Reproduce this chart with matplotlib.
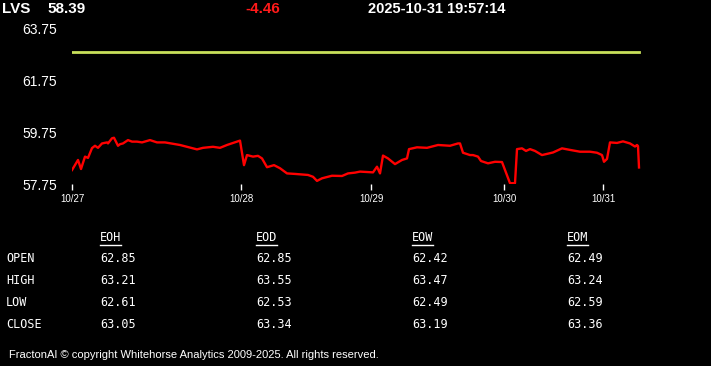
import matplotlib.pyplot as plt
from matplotlib.lines import Line2D

# header
symbol = "LVS"
last_price = "58.39"
change = "-4.46"
timestamp = "2025-10-31 19:57:14"
prev_close = 62.85

# intraday series: bar index, price
bar_idx = [0, 6, 9, 13, 16, 20, 23, 26, 30, 35, 36, 40, 42, 46, 48, 51, 56, 60, 65, 70,
           78, 85, 93, 108, 125, 131, 141, 148, 155, 168, 172, 175, 181, 186, 190, 195,
           202, 208, 215, 223, 236, 241, 245, 250, 260, 270, 276, 283, 288, 301, 305,
           308, 311, 316, 323, 330, 335, 337, 345, 355, 366, 378, 386, 388, 391, 398,
           401, 406, 409, 416, 423, 430, 434, 438, 443, 445, 450, 454, 458, 463, 470,
           481, 490, 498, 508, 518, 525, 530, 532, 535, 538, 545, 551, 558, 563, 565,
           566, 567]
price = [58.29, 58.68, 58.33, 58.81, 58.76, 59.14, 59.23, 59.15, 59.32, 59.36, 59.32,
         59.52, 59.54, 59.23, 59.29, 59.32, 59.45, 59.39, 59.39, 59.36, 59.45, 59.36,
         59.36, 59.26, 59.09, 59.15, 59.19, 59.15, 59.26, 59.43, 58.48, 58.87, 58.81,
         58.84, 58.74, 58.40, 58.48, 58.36, 58.16, 58.14, 58.10, 58.03, 57.87, 57.97,
         58.07, 58.06, 58.16, 58.19, 58.23, 58.20, 58.42, 58.16, 58.85, 58.74, 58.52,
         58.68, 58.74, 59.10, 59.17, 59.15, 59.26, 59.23, 59.32, 59.32, 58.96, 58.87,
         58.87, 58.81, 58.64, 58.55, 58.61, 58.60, 58.19, 57.78, 57.78, 59.10, 59.13,
         59.03, 59.10, 59.03, 58.87, 58.97, 59.13, 59.07, 59.00, 59.00, 58.96, 58.87,
         58.61, 58.72, 59.36, 59.34, 59.40, 59.32, 59.20, 59.26, 59.22, 58.39]

day_ticks = [0, 169, 299, 432, 531]
day_labels = ["10/27", "10/28", "10/29", "10/30", "10/31"]
y_ticks = [57.75, 59.75, 61.75, 63.75]

# summary table
col_names = ["EOH", "EOD", "EOW", "EOM"]
row_names = ["OPEN", "HIGH", "LOW", "CLOSE"]
eoh = ["62.85", "63.21", "62.61", "63.05"]
eod = ["62.85", "63.55", "62.53", "63.34"]
eow = ["62.42", "63.47", "62.49", "63.19"]
eom = ["62.49", "63.24", "62.59", "63.36"]
table_cols = [eoh, eod, eow, eom]

footer = "FractonAI \u00a9 copyright Whitehorse Analytics 2009-2025. All rights reserved."

W, H = 711, 366
sans = ["Liberation Sans", "DejaVu Sans"]
mono = ["DejaVu Sans Mono"]

fig = plt.figure(figsize=(W / 100, H / 100), dpi=100, facecolor="black")
ax = fig.add_axes([72 / W, 1 - 184 / H, (660 - 72) / W, (184 - 29) / H])
ax.set_facecolor("black")

ax.plot([bar_idx[0], bar_idx[-1]], [prev_close, prev_close], color="#c8e05a", lw=2)
ax.plot(bar_idx, price, color="#ff0000", lw=1.7)

ax.set_xlim(0, 588)
ax.set_ylim(57.75, 63.75)
for s in ax.spines.values():
    s.set_visible(False)
ax.set_yticks(y_ticks)
ax.set_yticklabels([f"{v:.2f}" for v in y_ticks], color="white", fontsize=10, family=sans)
ax.tick_params(axis="y", length=0, pad=11)
ax.set_xticks(day_ticks)
ax.set_xticklabels(day_labels, color="white", fontsize=7, family=sans)
ax.tick_params(axis="x", length=4, width=1, color="white", pad=3, direction="out")


def px(x, y):
    return x / W, 1 - y / H


fig.text(*px(2, 9), symbol, color="white", fontsize=11, fontweight="bold",
         family=sans, va="center")
fig.text(*px(47, 9), last_price, color="white", fontsize=11, fontweight="bold",
         family=sans, va="center")
fig.text(*px(263, 9), change, color="#ff1a1a", fontsize=11, fontweight="bold",
         family=sans, va="center", ha="center")
fig.text(*px(368, 9), timestamp, color="white", fontsize=10.5, fontweight="bold",
         family=sans, va="center")

col_x = [100, 256, 412, 567]
row_y = [259, 281, 302, 324]
headers = []
for cx, name in zip(col_x, col_names):
    headers.append(fig.text(*px(cx, 238), name, color="white", fontsize=8.5,
                            family=mono, va="center"))
for ry, name in zip(row_y, row_names):
    fig.text(*px(6, ry), name, color="white", fontsize=8.5, family=mono, va="center")
for cx, vals in zip(col_x, table_cols):
    for ry, v in zip(row_y, vals):
        fig.text(*px(cx, ry), v, color="white", fontsize=8.5, family=mono, va="center")

fig.text(*px(9, 355), footer, color="white", fontsize=8, family=sans, va="center")

# underline the column headers
fig.canvas.draw()
r = fig.canvas.get_renderer()
for t in headers:
    bb = t.get_window_extent(r)
    yline = bb.y0 - 1
    fig.add_artist(Line2D([bb.x0 / W, bb.x1 / W], [yline / H, yline / H],
                          color="white", lw=1, transform=fig.transFigure))

fig.savefig("out.png", dpi=100, facecolor="black")
